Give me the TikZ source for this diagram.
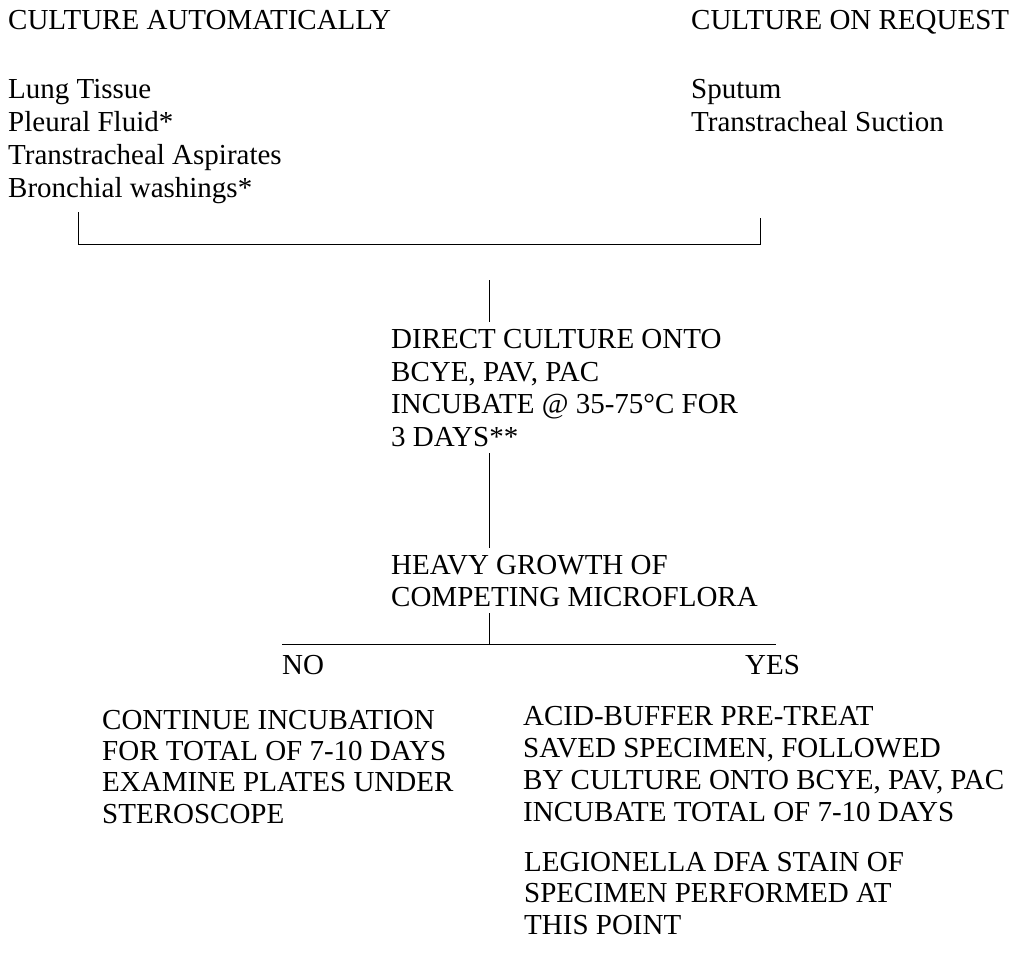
\documentclass[tikz,border=0pt]{standalone}
\usepackage{fontspec}
\setmainfont{Liberation Serif}
\usepackage{tikz}
% base west of a many-line node is the baseline of its last line
\tikzstyle{txt}=[anchor=base west,inner xsep=0pt,inner ysep=7pt,align=left,font=\fontsize{29}{33}\selectfont]
\tikzstyle{wire}=[line width=0.8pt]

\begin{document}
\begin{tikzpicture}[x=1pt,y=-1pt]
\useasboundingbox (0,0) rectangle (1015,964);
% headings and the two answers
\foreach \name/\x/\y/\text in {auto/8/29/CULTURE AUTOMATICALLY, request/691/29/CULTURE ON REQUEST,
                               no/282/674/NO, yes/745/674/YES}
  \node[txt] (\name) at (\x,\y) {\text};
\node[txt] (autolist) at (8,197) {Lung Tissue\\Pleural Fluid*\\Transtracheal Aspirates\\Bronchial washings*};
\node[txt] (reqlist) at (691,131) {Sputum\\Transtracheal Suction};
\node[txt,font=\fontsize{29}{32.4}\selectfont] (direct) at (391,446)
  {DIRECT CULTURE ONTO\\BCYE, PAV, PAC\\INCUBATE @ 35-75°C FOR\\3 DAYS**};
\node[txt,font=\fontsize{29}{32}\selectfont] (heavy) at (391,606) {HEAVY GROWTH OF\\COMPETING MICROFLORA};
\node[txt,font=\fontsize{29}{31.3}\selectfont] (cont) at (102,823)
  {CONTINUE INCUBATION\\FOR TOTAL OF 7-10 DAYS\\EXAMINE PLATES UNDER\\STEROSCOPE};
\node[txt,font=\fontsize{29}{32}\selectfont] (acid) at (523,821)
  {ACID-BUFFER PRE-TREAT\\SAVED SPECIMEN, FOLLOWED\\BY CULTURE ONTO BCYE, PAV, PAC\\INCUBATE TOTAL OF 7-10 DAYS};
\node[txt,font=\fontsize{29}{31.5}\selectfont] (legion) at (524,934)
  {LEGIONELLA DFA STAIN OF\\SPECIMEN PERFORMED AT\\THIS POINT};
% bracket joining both lists
\coordinate (bl) at (78,212);
\coordinate (br) at (760,218);
\coordinate (mid) at (489,280);
\coordinate (split) at (489,644);
\coordinate (nosplit) at (282,644);
\coordinate (yessplit) at (776,644);
\draw[wire] (bl) -- (bl |- 0,244) -- (br |- 0,244) -- (br);
\draw[wire] (mid) -- (mid |- direct.north);
\draw[wire] (mid |- direct.south) -- (mid |- heavy.north);
\draw[wire] (split |- heavy.south) -- (split);
\draw[wire] (nosplit) -- (yessplit);
\end{tikzpicture}
\end{document}
